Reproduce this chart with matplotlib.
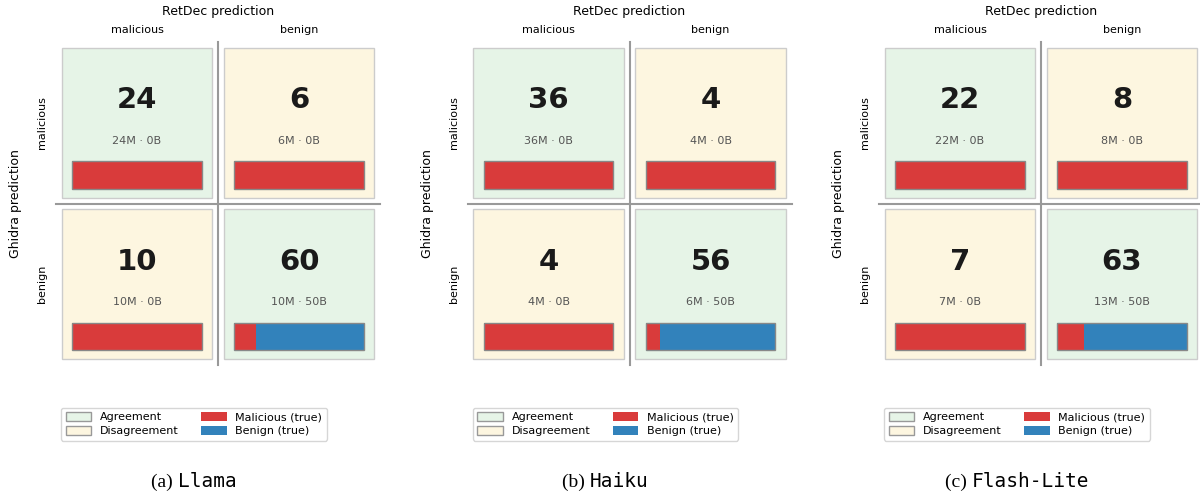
import matplotlib
matplotlib.use("Agg")
import matplotlib.pyplot as plt
from matplotlib.patches import Rectangle, Patch

# confusion cells per model: order TL, TR, BL, BR (rows = Ghidra, cols = RetDec)
models = ["Llama", "Haiku", "Flash-Lite"]
letters = ["(a)", "(b)", "(c)"]
mal_counts = [
    [24, 6, 10, 10],
    [36, 4, 4, 6],
    [22, 8, 7, 13],
]
ben_counts = [
    [0, 0, 0, 50],
    [0, 0, 0, 50],
    [0, 0, 0, 50],
]
class_labels = ["malicious", "benign"]

AGREE = "#e6f4e7"
DISAGREE = "#fdf6e0"
RED = "#d93b3b"
BLUE = "#3282bb"

plt.rcParams["font.family"] = "DejaVu Sans"
fig = plt.figure(figsize=(12, 4.92), dpi=100)

W, H = 1200, 492
ax_w, ax_h = 324, 323
lefts = [56, 467.5, 879]
top = 42

for k, name in enumerate(models):
    ax = fig.add_axes([lefts[k] / W, 1 - (top + ax_h) / H, ax_w / W, ax_h / H])
    ax.set_xlim(0, 2)
    ax.set_ylim(2, 0)
    ax.axis("off")
    for i in range(4):
        r, c = divmod(i, 2)
        m, b = mal_counts[k][i], ben_counts[k][i]
        tot = m + b
        face = AGREE if r == c else DISAGREE
        ax.add_patch(Rectangle((c + 0.037, r + 0.037), 0.926, 0.926,
                               facecolor=face, edgecolor="#cccccc", lw=1))
        ax.text(c + 0.5, r + 0.36, str(tot), ha="center", va="center",
                fontsize=21, fontweight="bold", color="#1a1a1a")
        ax.text(c + 0.5, r + 0.613, f"{m}M \u00b7 {b}B", ha="center", va="center",
                fontsize=8, color="#555555")
        bx, bw = c + 0.1, 0.8
        by, bh = r + 0.737, 0.173
        fm = m / tot
        ax.add_patch(Rectangle((bx, by), bw * fm, bh, facecolor=RED, lw=0))
        ax.add_patch(Rectangle((bx + bw * fm, by), bw * (1 - fm), bh, facecolor=BLUE, lw=0))
        ax.add_patch(Rectangle((bx, by), bw, bh, facecolor="none", edgecolor="#888888", lw=1))
    ax.plot([1, 1], [0, 2], color="#999999", lw=1.5, clip_on=False)
    ax.plot([0, 2], [1, 1], color="#999999", lw=1.5, clip_on=False)

    for j, lab in enumerate(class_labels):
        ax.text(j + 0.5, -0.074, lab, ha="center", va="center", fontsize=8, clip_on=False)
        ax.text(-0.086, j + 0.5, lab, ha="center", va="center", rotation=90,
                fontsize=8, clip_on=False)
    ax.text(1.0, -0.19, "RetDec prediction", ha="center", va="center", fontsize=9)
    ax.text(-0.247, 1.0, "Ghidra prediction", ha="center", va="center",
            rotation=90, fontsize=9)

    handles = [
        Patch(facecolor=AGREE, edgecolor="#999999", label="Agreement"),
        Patch(facecolor=DISAGREE, edgecolor="#999999", label="Disagreement"),
        Patch(facecolor=RED, label="Malicious (true)"),
        Patch(facecolor=BLUE, label="Benign (true)"),
    ]
    cx = lefts[k] + 138
    ax.legend(handles=handles, ncol=2, loc="upper center",
              bbox_to_anchor=(cx / W, 1 - 402 / H), bbox_transform=fig.transFigure,
              fontsize=8, frameon=True, handlelength=2.3, handleheight=0.8,
              columnspacing=2.0, labelspacing=0.35, borderpad=0.4,
              fancybox=True, edgecolor="#cccccc")

    # caption: serif letter + monospace model name, centred together
    t1 = fig.text(0, 0, letters[k] + " ", fontsize=14, family="Liberation Serif")
    t2 = fig.text(0, 0, name, fontsize=14, family="DejaVu Sans Mono")
    rend = fig.canvas.get_renderer()
    w1 = t1.get_window_extent(rend).width
    w2 = t2.get_window_extent(rend).width
    x0 = cx - (w1 + w2) / 2
    ybase = 1 - 487 / H
    t1.set_position((x0 / W, ybase))
    t2.set_position(((x0 + w1) / W, ybase))

fig.savefig("out.png", dpi=100)
